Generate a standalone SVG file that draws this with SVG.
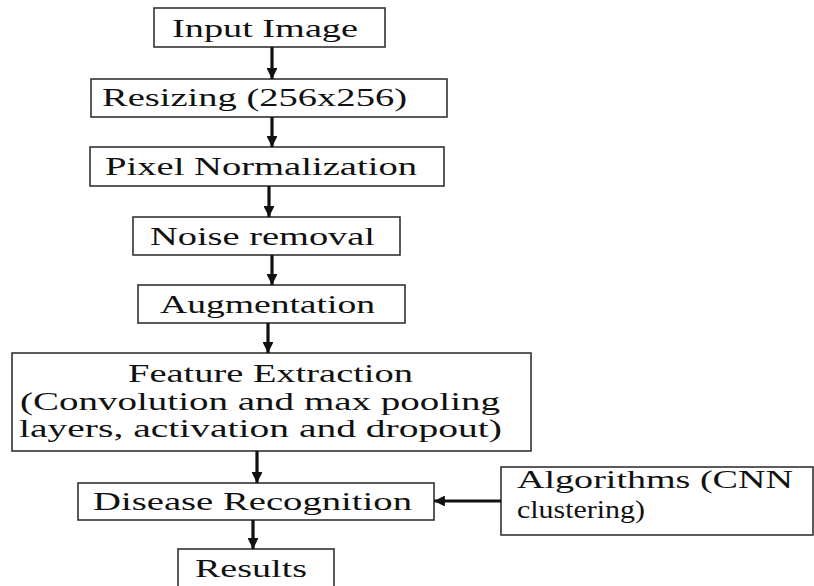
<svg xmlns="http://www.w3.org/2000/svg" width="814" height="586" viewBox="0 0 814 586">
  <defs>
    <marker id="head" viewBox="0 0 10 10" refX="10" refY="5" markerWidth="4" markerHeight="3.4" markerUnits="strokeWidth" orient="auto">
      <path d="M0,0 L10,5 L0,10 Z" fill="#111"/>
    </marker>
    <style>
      .box { fill: #fff; stroke: #333; stroke-width: 1.6; }
      .lbl { font-family: "Liberation Serif", "Times New Roman", serif; font-size: 25px; fill: #111; }
      .link { stroke: #111; stroke-width: 3.2; fill: none; marker-end: url(#head); }
    </style>
  </defs>
  <rect width="814" height="586" fill="#fff"/>

  <g id="input-image">
    <rect class="box" x="154" y="8" width="231" height="39"/>
    <text class="lbl" x="172" y="37" textLength="186" lengthAdjust="spacingAndGlyphs">Input Image</text>
  </g>
  <g id="resizing">
    <rect class="box" x="91" y="79" width="356" height="38"/>
    <text class="lbl" x="102" y="106" textLength="305" lengthAdjust="spacingAndGlyphs">Resizing (256x256)</text>
  </g>
  <g id="pixel-normalization">
    <rect class="box" x="90" y="147" width="354" height="39"/>
    <text class="lbl" x="105" y="175" textLength="312" lengthAdjust="spacingAndGlyphs">Pixel Normalization</text>
  </g>
  <g id="noise-removal">
    <rect class="box" x="133" y="217" width="267" height="38"/>
    <text class="lbl" x="150" y="245" textLength="225" lengthAdjust="spacingAndGlyphs">Noise removal</text>
  </g>
  <g id="augmentation">
    <rect class="box" x="138" y="285" width="267" height="38"/>
    <text class="lbl" x="160" y="313" textLength="215" lengthAdjust="spacingAndGlyphs">Augmentation</text>
  </g>
  <g id="feature-extraction">
    <rect class="box" x="12" y="353" width="519" height="98"/>
    <text class="lbl" x="128" y="382" textLength="285" lengthAdjust="spacingAndGlyphs">Feature Extraction</text>
    <text class="lbl" x="20" y="410" textLength="480" lengthAdjust="spacingAndGlyphs">(Convolution and max pooling</text>
    <text class="lbl" x="19" y="437" textLength="483" lengthAdjust="spacingAndGlyphs">layers, activation and dropout)</text>
  </g>
  <g id="disease-recognition">
    <rect class="box" x="78" y="483" width="356" height="37"/>
    <text class="lbl" x="93" y="510" textLength="319" lengthAdjust="spacingAndGlyphs">Disease Recognition</text>
  </g>
  <g id="results">
    <rect class="box" x="178" y="549" width="156" height="45"/>
    <text class="lbl" x="195" y="577" textLength="112" lengthAdjust="spacingAndGlyphs">Results</text>
  </g>
  <g id="algorithms">
    <rect class="box" x="501" y="467" width="312" height="68"/>
    <text class="lbl" x="517" y="488" textLength="276" lengthAdjust="spacingAndGlyphs">Algorithms (CNN</text>
    <text class="lbl" x="517" y="518" textLength="128" lengthAdjust="spacingAndGlyphs">clustering)</text>
  </g>

  <g id="connectors">
    <line class="link" x1="272" y1="47" x2="272" y2="79"/>
    <line class="link" x1="272" y1="117" x2="272" y2="147"/>
    <line class="link" x1="269" y1="186" x2="269" y2="217"/>
    <line class="link" x1="272" y1="255" x2="272" y2="285"/>
    <line class="link" x1="268" y1="323" x2="268" y2="353"/>
    <line class="link" x1="257" y1="451" x2="257" y2="483"/>
    <line class="link" x1="253" y1="520" x2="253" y2="549"/>
    <line class="link" x1="501" y1="501" x2="434" y2="501"/>
  </g>
</svg>
